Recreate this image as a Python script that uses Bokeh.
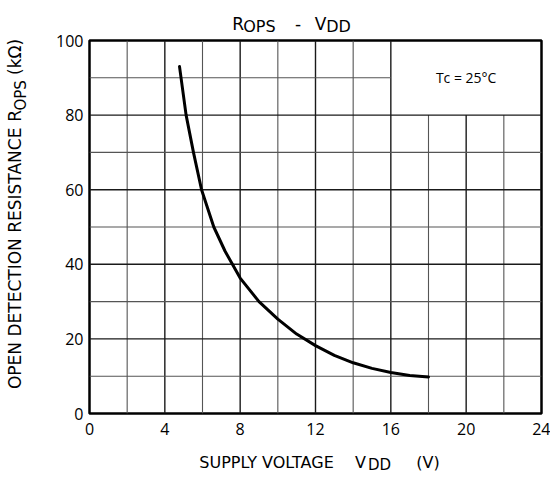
from bokeh.plotting import figure
from bokeh.models import Range1d, Label, FixedTicker, LinearAxis
from bokeh.embed import file_html
from bokeh.resources import INLINE

# ---- data ----
vdd = [4.78, 5.13, 5.52, 5.95, 6.6, 7.2, 8.0, 9.0, 10.0, 11.0, 12.0, 13.0, 14.0, 15.0, 16.0, 17.0, 18.0]
rops = [93.0, 80.0, 70.0, 60.0, 50.0, 43.5, 36.3, 30.0, 25.3, 21.3, 18.2, 15.6, 13.6, 12.1, 11.0, 10.2, 9.8]

x_ticks = [0, 4, 8, 12, 16, 20, 24]
y_ticks = [0, 20, 40, 60, 80, 100]
x_grid = [2, 4, 6, 8, 10, 12, 14, 16, 18, 20, 22]
y_grid = [10, 20, 30, 40, 50, 60, 70, 80, 90]
box = dict(x0=16, x1=24, y0=80, y1=100)   # annotation box (no grid inside)
box_text = "Tc = 25°C"

# title / axis-title pieces (main text, subscript text)
title_main = ["R", "-", "V"]
title_sub = ["OPS", "DD"]
xlab_main = ["SUPPLY VOLTAGE", "V", "(V)"]
xlab_sub = ["DD"]
ylab_main = ["OPEN DETECTION RESISTANCE", "R", "(kΩ)"]
ylab_sub = ["OPS"]

FONT = "Open Sans"
LFONT = "DejaVu Sans"

p = figure(width=550, height=476, output_backend="svg", toolbar_location=None,
           x_range=Range1d(0, 24), y_range=Range1d(0, 100),
           min_border_left=89, min_border_right=9, min_border_top=40, min_border_bottom=62)
p.background_fill_color = "white"
p.border_fill_color = "white"
p.outline_line_color = "black"
p.outline_line_width = 2.5
p.xgrid.visible = False
p.ygrid.visible = False

def plain(ax, font, size, standoff):
    ax.axis_line_color = None
    ax.major_tick_line_color = None
    ax.minor_tick_line_color = None
    ax.major_tick_out = 0
    ax.major_tick_in = 0
    ax.minor_tick_out = 0
    ax.minor_tick_in = 0
    ax.major_label_text_font = font
    ax.major_label_text_font_size = size
    ax.major_label_text_color = "black"
    ax.major_label_standoff = int(standoff)

p.xaxis.ticker = FixedTicker(ticks=x_ticks)
p.yaxis.ticker = FixedTicker(ticks=y_ticks)
plain(p.xaxis[0], FONT, "16px", 9)
plain(p.yaxis[0], FONT, "16px", 6)

def text_axis(side, pos, labels, size, standoff, orient="horizontal"):
    ax = LinearAxis(ticker=FixedTicker(ticks=pos),
                    major_label_overrides={t: s for t, s in zip(pos, labels)},
                    major_label_orientation=orient)
    plain(ax, LFONT, size, standoff)
    p.add_layout(ax, side)

# centres of each text piece along its axis (data units)
title_main_pos = [7.89, 11.07, 12.27]
title_sub_pos = [9.02, 13.22]
xlab_main_pos = [9.40, 14.39, 17.97]
xlab_sub_pos = [15.40]
ylab_main_pos = [41.6, 79.8, 95.6]
ylab_sub_pos = [85.3]

# below: x tick labels, then subscript, then main x-title (pulled back up)
text_axis("below", xlab_sub_pos, xlab_sub, "15px", 18)
text_axis("below", xlab_main_pos, xlab_main, "16px", -24)
# above: subscripts nearest to frame, then main text overlapping upward
text_axis("above", title_sub_pos, title_sub, "16px", 5)
text_axis("above", title_main_pos, title_main, "17px", -20)
# left: y tick labels, then subscript, then main y-title
text_axis("left", ylab_sub_pos, ylab_sub, "15px", 23, orient="parallel")
text_axis("left", ylab_main_pos, ylab_main, "17px", -16, orient="parallel")

# ---- grid lines, skipping the annotation box ----
vx0, vy0, vx1, vy1, vw, vc = [], [], [], [], [], []
for gx in x_grid:
    top = box["y0"] if gx > box["x0"] else 100
    vx0.append(gx); vx1.append(gx); vy0.append(0); vy1.append(top)
    major = gx in x_ticks
    vw.append(1.4 if major else 1.1); vc.append("#1a1a1a" if major else "#555555")
for gy in y_grid:
    right = box["x0"] if gy > box["y0"] else 24
    vx0.append(0); vx1.append(right); vy0.append(gy); vy1.append(gy)
    major = gy in y_ticks
    vw.append(1.4 if major else 1.1); vc.append("#1a1a1a" if major else "#555555")
p.segment(x0=vx0, y0=vy0, x1=vx1, y1=vy1, line_width=vw, line_color=vc)

# ---- curve ----
p.line(vdd, rops, line_width=3, line_color="black", line_join="round", line_cap="round")

# ---- box text ----
p.add_layout(Label(x=(box["x0"] + box["x1"]) / 2, y=(box["y0"] + box["y1"]) / 2, text=box_text,
                   text_align="center", text_baseline="middle",
                   text_font=FONT, text_font_size="14px", text_color="black"))

open("out.html", "w").write(file_html(p, INLINE))
